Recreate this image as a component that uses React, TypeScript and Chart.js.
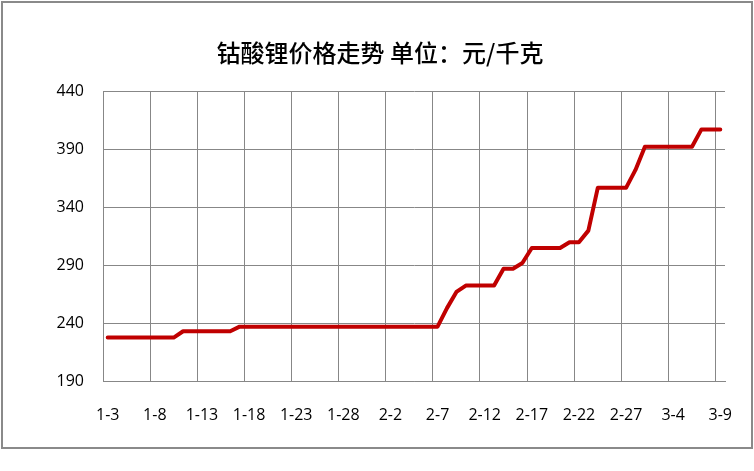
import React, { useEffect, useRef } from "react";
import { Chart, registerables } from "chart.js";

Chart.register(...registerables);

const categories: string[] = [
  "1-3", "1-4", "1-5", "1-6", "1-7", "1-8", "1-9", "1-10", "1-11", "1-12",
  "1-13", "1-14", "1-15", "1-16", "1-17", "1-18", "1-19", "1-20", "1-21", "1-22",
  "1-23", "1-24", "1-25", "1-26", "1-27", "1-28", "1-29", "1-30", "1-31", "2-1",
  "2-2", "2-3", "2-4", "2-5", "2-6", "2-7", "2-8", "2-9", "2-10", "2-11",
  "2-12", "2-13", "2-14", "2-15", "2-16", "2-17", "2-18", "2-19", "2-20", "2-21",
  "2-22", "2-23", "2-24", "2-25", "2-26", "2-27", "2-28", "3-1", "3-2", "3-3",
  "3-4", "3-5", "3-6", "3-7", "3-8", "3-9",
];

const prices: number[] = [
  227.5, 227.5, 227.5, 227.5, 227.5, 227.5, 227.5, 227.5,
  233, 233, 233, 233, 233, 233,
  237, 237, 237, 237, 237, 237, 237, 237, 237, 237, 237,
  237, 237, 237, 237, 237, 237, 237, 237, 237, 237, 237,
  253, 267,
  272.5, 272.5, 272.5, 272.5,
  287, 287,
  292,
  305, 305, 305, 305,
  310, 310,
  320,
  357, 357, 357, 357,
  372.5,
  392.5, 392.5, 392.5, 392.5, 392.5, 392.5,
  407.5, 407.5, 407.5,
];

const yTicks: number[] = [190, 240, 290, 340, 390, 440];
const titleText = "钴酸锂价格走势 单位：元/千克";

const GRID = "#878787";
const LINE = "#C00000";
const FONT = "'Open Sans', 'Liberation Sans', sans-serif";

export default function App() {
  const canvasRef = useRef<HTMLCanvasElement | null>(null);

  useEffect(() => {
    if (!canvasRef.current) return;
    const chart = new Chart(canvasRef.current, {
      type: "line",
      data: {
        labels: categories,
        datasets: [
          {
            data: prices,
            yAxisID: "y",
            borderColor: LINE,
            backgroundColor: LINE,
            borderWidth: 4,
            pointRadius: 0,
            pointHoverRadius: 0,
            tension: 0,
            borderJoinStyle: "round",
            borderCapStyle: "round",
            fill: false,
          },
        ],
      },
      options: {
        animation: false,
        responsive: false,
        maintainAspectRatio: false,
        events: [],
        layout: { padding: { top: 0, right: 0, bottom: 0, left: 6 } },
        plugins: {
          legend: { display: false },
          tooltip: { enabled: false },
          title: {
            display: true,
            text: titleText,
            color: "#000000",
            font: { family: "'Noto Sans CJK SC', sans-serif", size: 24, weight: "500" },
            padding: { top: 35, bottom: 25 },
          },
        },
        scales: {
          x: {
            type: "category",
            offset: true,
            grid: {
              offset: true,
              drawTicks: false,
              color: (ctx: any) => (ctx.index % 5 === 0 ? GRID : "rgba(0,0,0,0)"),
              lineWidth: 1,
            },
            border: { display: true, color: GRID, width: 1 },
            ticks: {
              autoSkip: false,
              maxRotation: 0,
              minRotation: 0,
              padding: 25,
              color: "#000000",
              font: { family: FONT, size: 16 },
              callback: (_v: any, i: number) => (i % 5 === 0 ? categories[i] : ""),
            },
            afterFit: (scale: any) => {
              scale.height = 66;
              scale.paddingLeft = 0;
              scale.paddingRight = 0;
            },
          },
          y: {
            type: "linear",
            position: "left",
            min: yTicks[0],
            max: yTicks[yTicks.length - 1],
            afterBuildTicks: (scale: any) => {
              scale.ticks = yTicks.map((v) => ({ value: v }));
            },
            grid: { color: GRID, lineWidth: 1, drawTicks: false },
            border: { display: true, color: GRID, width: 1 },
            ticks: {
              padding: 19,
              color: "#000000",
              font: { family: FONT, size: 16 },
            },
            afterFit: (scale: any) => {
              scale.width = 94;
              scale.paddingTop = 0;
              scale.paddingBottom = 0;
            },
          },
          spacer: {
            type: "linear",
            position: "right",
            display: true,
            grid: { display: false, drawTicks: false },
            border: { display: false },
            ticks: { display: false },
            afterFit: (scale: any) => {
              scale.width = 26;
              scale.paddingTop = 0;
              scale.paddingBottom = 0;
            },
          },
        },
      },
    });
    return () => chart.destroy();
  }, []);

  return (
    <div
      style={{
        position: "absolute",
        left: 1,
        top: 1,
        width: 748,
        height: 444,
        border: "2px solid #8a8a8a",
        background: "#ffffff",
      }}
    >
      <canvas ref={canvasRef} width={748} height={444} style={{ display: "block", width: 748, height: 444 }} />
    </div>
  );
}
